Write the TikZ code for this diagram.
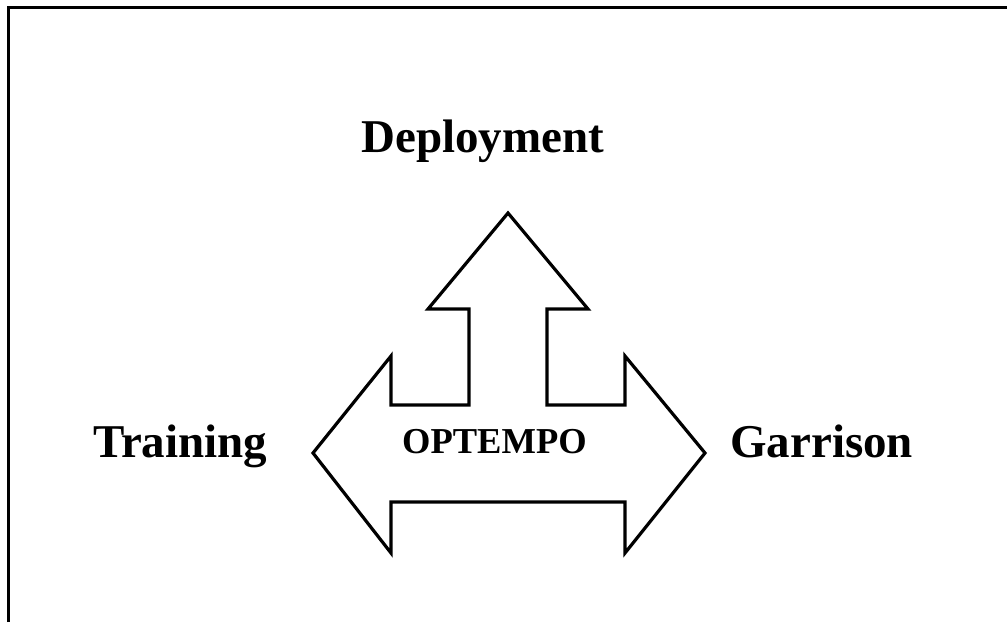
\documentclass[tikz,border=0pt]{standalone}
\usepackage{fontspec}
\setmainfont{Liberation Serif}
\begin{document}
\begin{tikzpicture}[x=1pt,y=-1pt,
  lbl/.style={font=\fontsize{47}{50}\selectfont\bfseries, inner sep=0pt, anchor=base west},
  outline/.style={draw=black, line width=3.2pt, line join=miter}]
\useasboundingbox (0,0) rectangle (1007,622);
\draw[line width=3pt] (8.5,622) -- (8.5,7.5) -- (1007,7.5);
\draw[outline] (508,213) -- (588,309) -- (547,309) -- (547,405) -- (625,405) -- (625,356)
  -- (705,453) -- (625,553) -- (625,502) -- (391,502) -- (391,553) -- (313,453)
  -- (391,356) -- (391,405) -- (469,405) -- (469,309) -- (428,309) -- cycle;
\node[lbl] (dep) at (361,152) {Deployment};
\node[lbl] (tra) at (93,457) {Training};
\node[lbl] (gar) at (730,457) {Garrison};
\node[font=\fontsize{36.5}{39}\selectfont\bfseries, inner sep=0pt, anchor=base west] (opt) at (402,453) {OPTEMPO};
\end{tikzpicture}
\end{document}
